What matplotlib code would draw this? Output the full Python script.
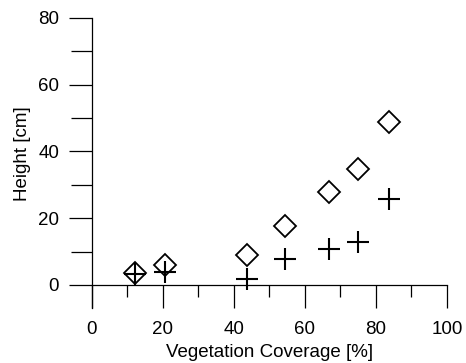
import matplotlib
matplotlib.use("Agg")
import matplotlib.pyplot as plt
from matplotlib.ticker import MultipleLocator

plt.rcParams['font.family'] = ['Liberation Sans', 'DejaVu Sans']

# vegetation coverage [%] and heights [cm]
coverage = [12.1, 20.6, 43.6, 54.4, 66.9, 75.0, 83.7]
height_diamond = [3.7, 6.0, 9.0, 17.7, 27.8, 34.8, 48.7]
height_plus = [3.3, 4.0, 1.8, 7.8, 10.8, 12.8, 25.8]

fig = plt.figure(figsize=(4.66, 3.63), dpi=100)
ax = fig.add_axes([0.1974, 0.1515, 0.7618, 0.799])

ax.plot(coverage, height_diamond, linestyle='none', marker='D', markersize=10.7,
        markerfacecolor='white', markeredgecolor='black', markeredgewidth=1.3, zorder=3)
ax.plot(coverage, height_plus, linestyle='none', marker='+', markersize=16.3,
        markeredgecolor='black', markeredgewidth=1.5, zorder=4)

ax.set_xlim(0, 100)
ax.set_ylim(-6.9, 80)

# axis line sits at y = 0, ticks hang below it
ax.spines['top'].set_visible(False)
ax.spines['right'].set_visible(False)
ax.spines['bottom'].set_position(('data', 0))
for s in ['left', 'bottom']:
    ax.spines[s].set_linewidth(0.9)

ax.xaxis.set_major_locator(MultipleLocator(20))
ax.xaxis.set_minor_locator(MultipleLocator(10))
ax.yaxis.set_minor_locator(MultipleLocator(10))
ax.set_yticks([0, 20, 40, 60, 80])

ax.tick_params(axis='x', which='major', direction='out', length=16.6, width=0.9, pad=9, labelsize=13.5)
ax.tick_params(axis='x', which='minor', direction='out', length=8.6, width=0.9)
ax.tick_params(axis='y', which='major', direction='out', length=16.6, width=0.9, pad=7, labelsize=13.5)
ax.tick_params(axis='y', which='minor', direction='out', length=15.1, width=0.9)

ax.set_xlabel('Vegetation Coverage [%]', fontsize=13.5, va='baseline')
ax.set_ylabel('Height [cm]', fontsize=13.5, va='center')
ax.xaxis.set_label_coords(0.5, -0.169)
ax.yaxis.set_label_coords(-0.197, 0.534)

fig.savefig('out.png', dpi=100)
